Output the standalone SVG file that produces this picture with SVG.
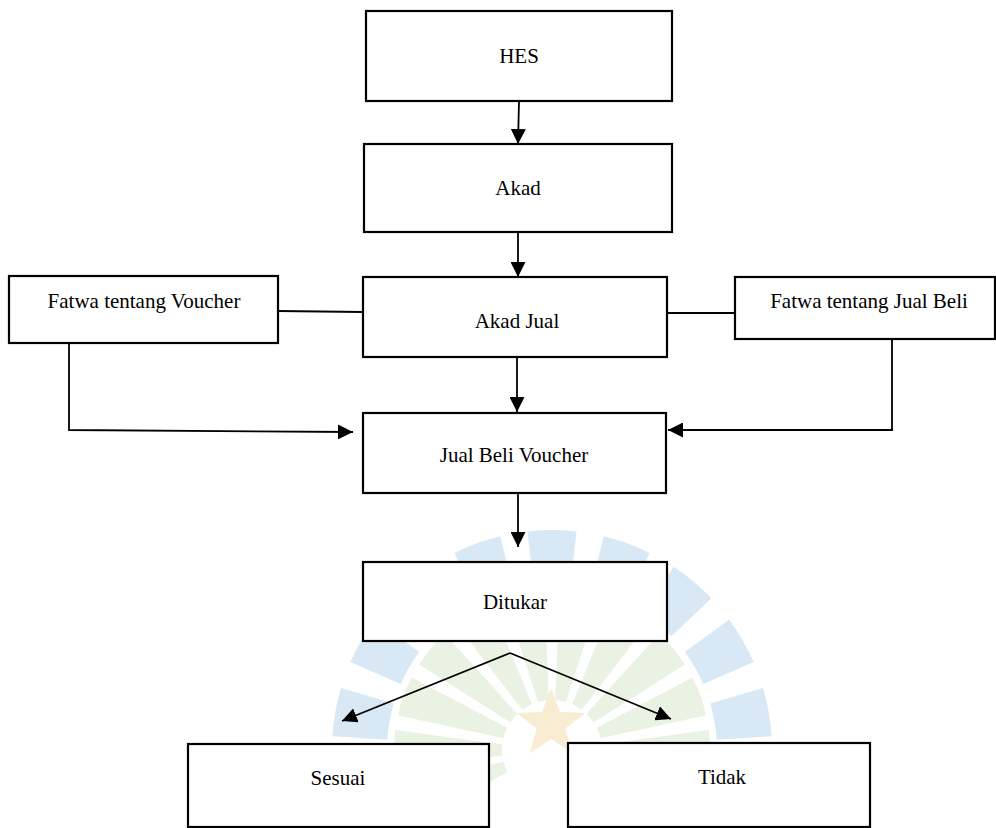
<svg xmlns="http://www.w3.org/2000/svg" xmlns:xlink="http://www.w3.org/1999/xlink" width="996" height="828" viewBox="0 0 996 828">
  <style>
    .box { fill: #ffffff; stroke: #000000; stroke-width: 2.2; }
    .lbl { font-family: "Liberation Serif", "Times New Roman", serif; font-size: 21px; fill: #000000; text-anchor: middle; }
    .con { fill: none; stroke: #000000; stroke-width: 1.8; }
    .seg { fill: #d9e8f5; }
    .gseg { fill: #e9f2e3; }
  </style>
  <defs>
    <marker id="ah" viewBox="0 0 14 14" refX="14" refY="7" markerWidth="15" markerHeight="15" markerUnits="userSpaceOnUse" orient="auto">
      <path d="M0,0 L14,7 L0,14 z" fill="#000000"/>
    </marker>
    <path id="bseg" d="M24.5,-218.6 A220,220 0 0 0 -24.5,-218.6 L-18.4,-164 A165,165 0 0 1 18.4,-164 Z"/>
    <path id="gsec" d="M20,-156.7 A158,158 0 0 0 -20,-156.7 L-5.5,-49.7 A50,50 0 0 1 5.5,-49.7 Z"/>
  </defs>
  <rect width="996" height="828" fill="#ffffff"/>

  <g id="watermark">
    <g transform="translate(552,750)" class="seg">
      <use xlink:href="#bseg" transform="rotate(0)"/>
      <use xlink:href="#bseg" transform="rotate(20)"/>
      <use xlink:href="#bseg" transform="rotate(40)"/>
      <use xlink:href="#bseg" transform="rotate(60)"/>
      <use xlink:href="#bseg" transform="rotate(80)"/>
      <use xlink:href="#bseg" transform="rotate(100)"/>
      <use xlink:href="#bseg" transform="rotate(-20)"/>
      <use xlink:href="#bseg" transform="rotate(-40)"/>
      <use xlink:href="#bseg" transform="rotate(-60)"/>
      <use xlink:href="#bseg" transform="rotate(-80)"/>
      <use xlink:href="#bseg" transform="rotate(-100)"/>
    </g>
    <g transform="translate(552,750)" class="gseg">
      <use xlink:href="#gsec" transform="rotate(10)"/>
      <use xlink:href="#gsec" transform="rotate(30)"/>
      <use xlink:href="#gsec" transform="rotate(50)"/>
      <use xlink:href="#gsec" transform="rotate(70)"/>
      <use xlink:href="#gsec" transform="rotate(90)"/>
      <use xlink:href="#gsec" transform="rotate(110)"/>
      <use xlink:href="#gsec" transform="rotate(-10)"/>
      <use xlink:href="#gsec" transform="rotate(-30)"/>
      <use xlink:href="#gsec" transform="rotate(-50)"/>
      <use xlink:href="#gsec" transform="rotate(-70)"/>
      <use xlink:href="#gsec" transform="rotate(-90)"/>
      <use xlink:href="#gsec" transform="rotate(-110)"/>
    </g>
    <polygon points="551,688 559.8,711.9 585.2,712.9 565.3,728.6 572.2,753.1 551,739 529.8,753.1 536.7,728.6 516.8,712.9 542.2,711.9" fill="#f8ecd3"/>
  </g>

  <g id="connectors">
    <path class="con" d="M519,101 L518,144" marker-end="url(#ah)"/>
    <path class="con" d="M518,223 L518,277" marker-end="url(#ah)"/>
    <path class="con" d="M517,357 L517,412" marker-end="url(#ah)"/>
    <path class="con" d="M278,311 L363,312"/>
    <path class="con" d="M667,313 L735,313"/>
    <path class="con" d="M69,343 L69,430 L353,432" marker-end="url(#ah)"/>
    <path class="con" d="M892,339 L892,430 L668,430" marker-end="url(#ah)"/>
    <path class="con" d="M518,493 L518,547" marker-end="url(#ah)"/>
    <path class="con" d="M510,653 L342,721" marker-end="url(#ah)"/>
    <path class="con" d="M510,653 L671,719" marker-end="url(#ah)"/>
  </g>

  <g id="hes">
    <rect class="box" x="366" y="11" width="306" height="90"/>
    <text class="lbl" x="519" y="63">HES</text>
  </g>
  <g id="akad">
    <rect class="box" x="364" y="144" width="308" height="88"/>
    <text class="lbl" x="518" y="195">Akad</text>
  </g>
  <g id="akad-jual">
    <rect class="box" x="363" y="277" width="304" height="80"/>
    <text class="lbl" x="517" y="328">Akad Jual</text>
  </g>
  <g id="fatwa-voucher">
    <rect class="box" x="9" y="276" width="269" height="67"/>
    <text class="lbl" x="144" y="308">Fatwa tentang Voucher</text>
  </g>
  <g id="fatwa-jual-beli">
    <rect class="box" x="735" y="277" width="260" height="62"/>
    <text class="lbl" x="869" y="308">Fatwa tentang Jual Beli</text>
  </g>
  <g id="jual-beli-voucher">
    <rect class="box" x="363" y="413" width="303" height="80"/>
    <text class="lbl" x="514" y="462">Jual Beli Voucher</text>
  </g>
  <g id="ditukar">
    <rect class="box" x="363" y="562" width="304" height="79"/>
    <text class="lbl" x="515" y="609">Ditukar</text>
  </g>
  <g id="sesuai">
    <rect class="box" x="188" y="744" width="301" height="83"/>
    <text class="lbl" x="338" y="785">Sesuai</text>
  </g>
  <g id="tidak">
    <rect class="box" x="568" y="743" width="302" height="84"/>
    <text class="lbl" x="722" y="784">Tidak</text>
  </g>
</svg>
